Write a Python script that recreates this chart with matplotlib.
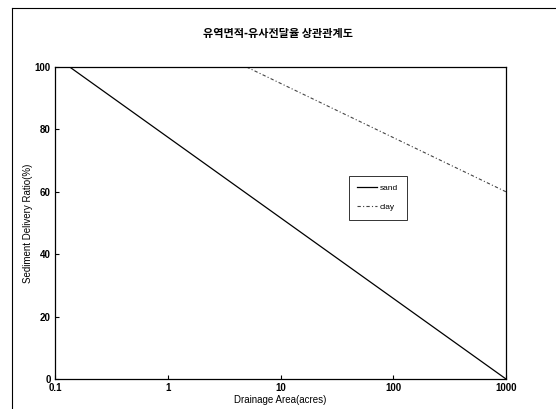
import matplotlib
matplotlib.use("Agg")
import matplotlib.pyplot as plt
from matplotlib.lines import Line2D

plt.rcParams['font.family'] = ['Liberation Sans', 'Noto Sans CJK KR', 'DejaVu Sans']

# sediment delivery ratio vs drainage area
sand_area = [0.135, 1000]
sand_sdr = [100, 0]
clay_area = [5, 1000]
clay_sdr = [100, 60]

x_ticks = [0.1, 1, 10, 100, 1000]
x_labels = ['0.1', '1', '10', '100', '1000']
y_ticks = [0, 20, 40, 60, 80, 100]

title = '유역면적-유사전달율 상관관계도'

fig = plt.figure(figsize=(5.56, 4.09), dpi=100)
ax = fig.add_axes([55 / 556, 1 - 379 / 409, 451 / 556, 312 / 409])

ax.plot(sand_area, sand_sdr, '-', color='black', lw=0.9, label='sand')
ax.plot(clay_area, clay_sdr, linestyle=(0, (3, 2, 1, 2)), color='#444444', lw=0.8, label='clay')

ax.set_xscale('log')
ax.set_xlim(0.1, 1000)
ax.set_ylim(0, 100)
ax.set_xticks(x_ticks)
ax.set_xticklabels(x_labels)
ax.minorticks_off()
ax.set_yticks(y_ticks)
ax.tick_params(direction='in', length=3, width=0.8, labelsize=7, pad=3)
for lab in ax.get_xticklabels() + ax.get_yticklabels():
    lab.set_fontweight('bold')
for s in ax.spines.values():
    s.set_linewidth(0.9)

ax.set_xlabel('Drainage Area(acres)', fontsize=7, labelpad=1)
ax.set_ylabel('Sediment Delivery Ratio(%)', fontsize=7, labelpad=1)

fig.text(0.5, 1 - 33 / 409, title, ha='center', va='center', fontsize=8,
         fontweight='bold', family=['Noto Sans CJK KR', 'DejaVu Sans'])

leg = ax.legend(loc='upper left', bbox_to_anchor=(0.643, 0.665), fontsize=6,
                frameon=True, fancybox=False, edgecolor='black', handlelength=2.4,
                borderpad=1.0, labelspacing=1.4, handletextpad=0.3)
leg.get_frame().set_linewidth(0.7)

# outer border of the scanned page frame
fig.add_artist(Line2D([12 / 556, 12 / 556], [0, 1 - 8 / 409], color='black', lw=0.8))
fig.add_artist(Line2D([12 / 556, 1], [1 - 8 / 409, 1 - 8 / 409], color='black', lw=0.8))

fig.savefig('out.png', dpi=100)
